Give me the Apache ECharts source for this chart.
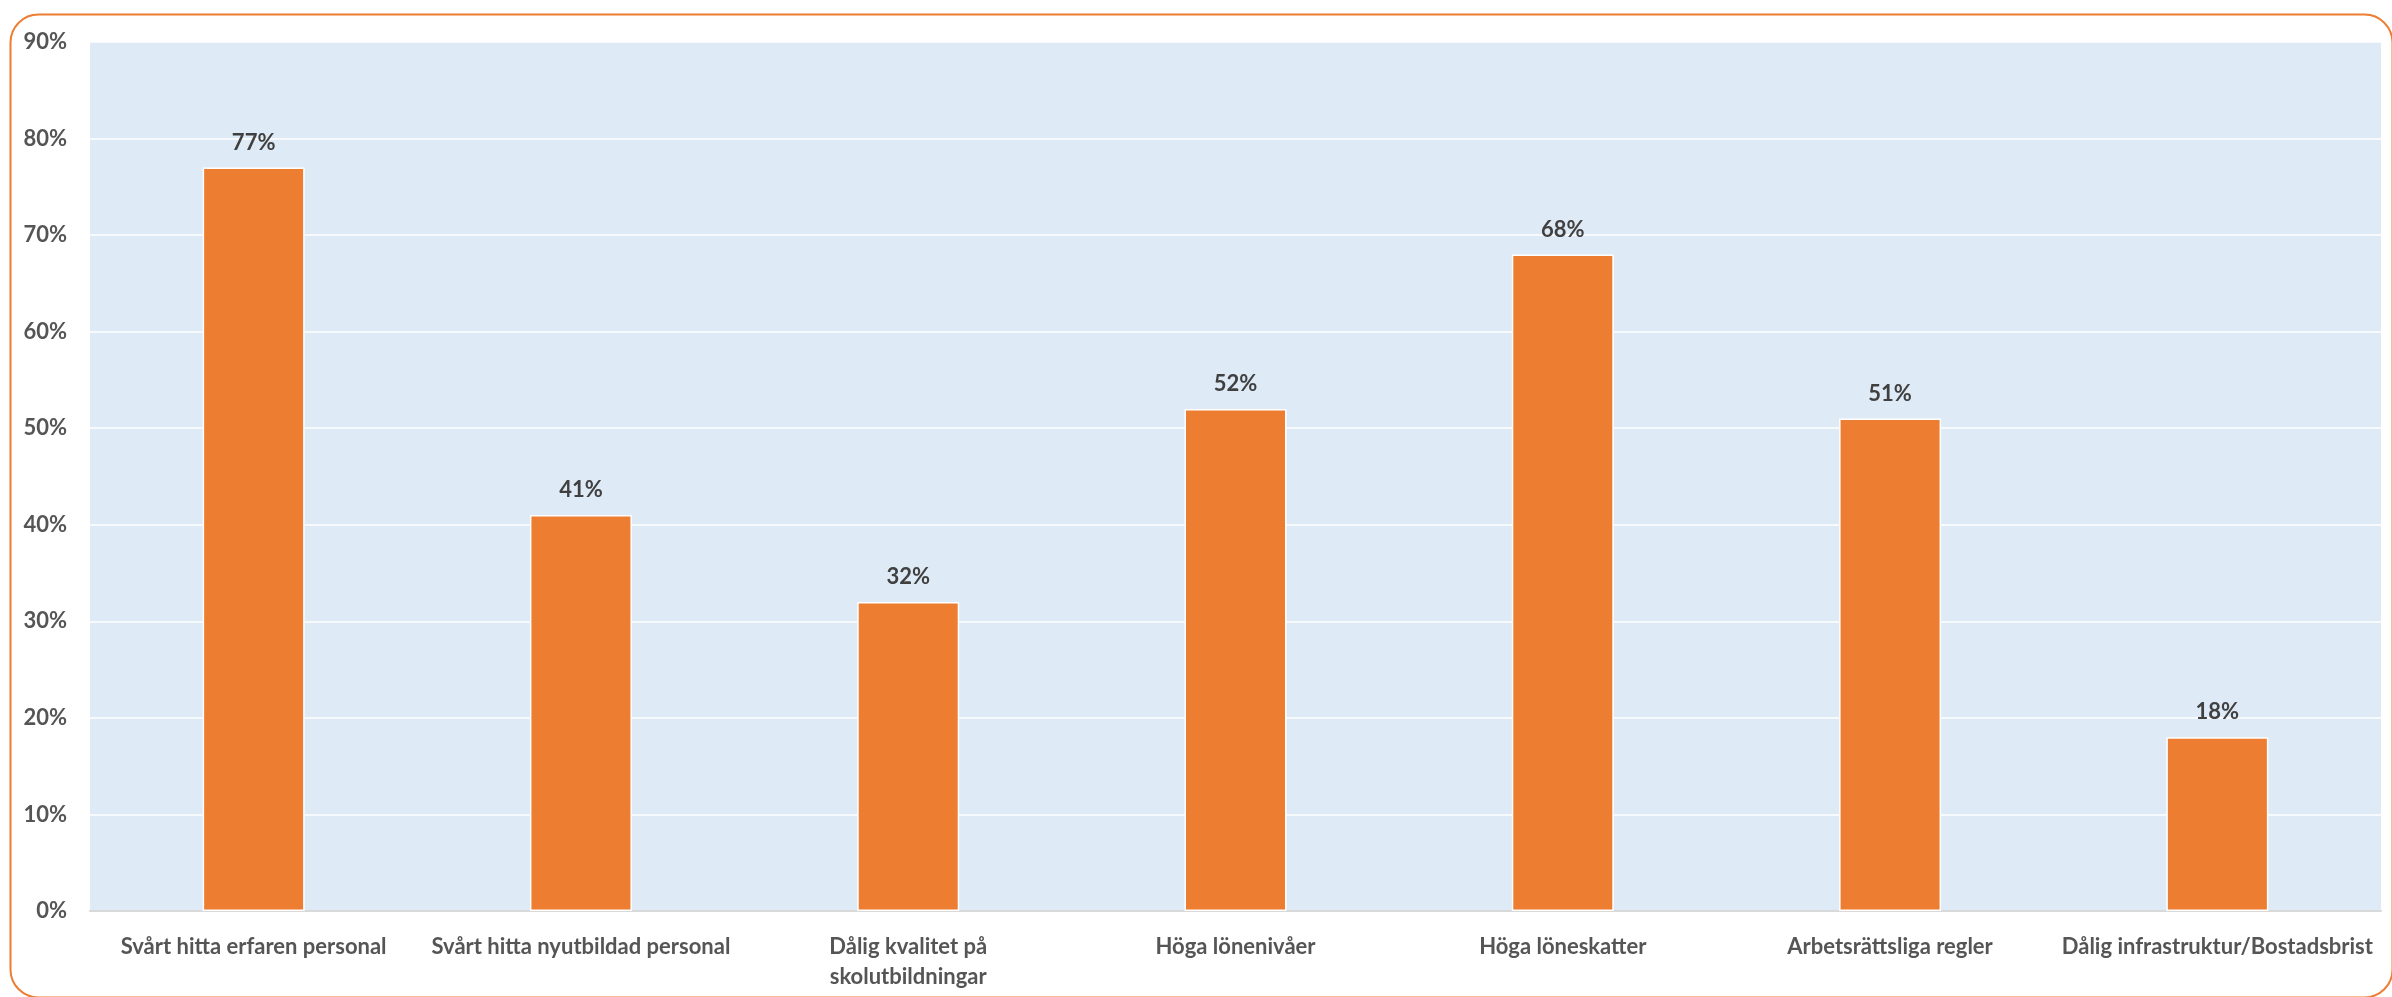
<!DOCTYPE html>
<html>
<head>
<meta charset="utf-8">
<script src="https://cdn.jsdelivr.net/npm/echarts@6/dist/echarts.min.js"></script>
<style>
  html, body { margin: 0; padding: 0; background: #fff; }
  #chart { width: 2392px; height: 997px; }
</style>
</head>
<body>
<div id="chart"></div>
<script>
var categories = ['Svårt hitta erfaren personal', 'Svårt hitta nyutbildad personal', 'Dålig kvalitet på\nskolutbildningar', 'Höga lönenivåer', 'Höga löneskatter', 'Arbetsrättsliga regler', 'Dålig infrastruktur/Bostadsbrist'];
var values = [77, 41, 32, 52, 68, 51, 18];

var myChart = echarts.init(document.getElementById('chart'));
var option = {
    animation: false,
    textStyle: { fontFamily: 'Lato, sans-serif' },
    graphic: [{
        type: 'rect',
        left: 8, top: 12,
        shape: { width: 2382, height: 983, r: 28 },
        style: { fill: 'none', stroke: '#ED7D31', lineWidth: 2 },
        z: 100
    }],
    grid: {
        left: 90, right: 11, top: 42, bottom: 86,
        show: true,
        backgroundColor: '#DEEAF6',
        borderWidth: 0
    },
    xAxis: {
        type: 'category',
        data: categories,
        axisTick: { show: false },
        axisLine: { lineStyle: { color: '#D9D9D9', width: 2 } },
        axisLabel: {
            color: '#555555',
            fontWeight: 'bold',
            fontSize: 22,
            margin: 21,
            lineHeight: 30,
            interval: 0
        }
    },
    yAxis: {
        type: 'value',
        min: 0, max: 90, interval: 10,
        axisLabel: {
            formatter: '{value}%',
            color: '#555555',
            fontWeight: 'bold',
            fontSize: 22,
            margin: 23
        },
        splitLine: { lineStyle: { color: '#ffffff', width: 1.5 } }
    },
    series: [{
        type: 'bar',
        data: values,
        barWidth: 102,
        itemStyle: { color: '#ED7D31', borderColor: '#ffffff', borderWidth: 1.5 },
        label: {
            show: true,
            position: 'top',
            distance: 14,
            formatter: '{c}%',
            color: '#404040',
            fontWeight: 'bold',
            fontSize: 22
        }
    }]
};
myChart.setOption(option);
</script>
</body>
</html>
